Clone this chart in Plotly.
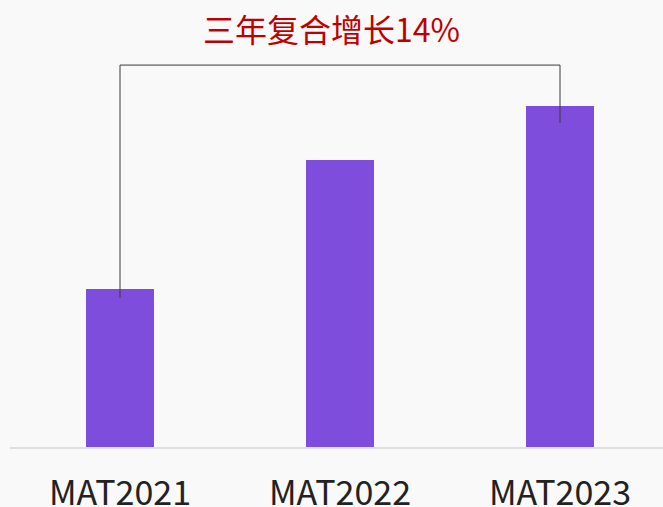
import plotly.graph_objects as go

categories = ["MAT2021", "MAT2022", "MAT2023"]
values = [158, 287, 341]
growth_label = "三年复合增长14%"

bar_color = "#7f4ddb"
fig = go.Figure()
fig.add_trace(go.Bar(x=categories, y=values, marker=dict(color=bar_color, line=dict(width=0)),
                     width=68/220, hoverinfo="skip"))

top = max(values) * 1.12
fig.add_shape(type="path",
              path=f"M 0 {values[0]-9} L 0 {top} L 2 {top} L 2 {values[2]-17}",
              xref="x", yref="y", line=dict(color="#3a3a3a", width=1))

fig.add_annotation(x=1, y=419, xref="x", yref="y", text=growth_label, showarrow=False,
                   xshift=-9, font=dict(size=32, color="#c00000", family="Noto Sans CJK SC"))

fig.update_layout(
    width=663, height=507,
    margin=dict(l=10, r=0, t=0, b=60, autoexpand=False),
    paper_bgcolor="#f9f9f9", plot_bgcolor="#f9f9f9",
    showlegend=False,
    xaxis=dict(range=[-0.5, -0.5 + 653/220], showline=True, linecolor="#dde0dd", linewidth=2,
               showgrid=False, zeroline=False, ticks="", ticklabelstandoff=15, automargin=False,
               tickfont=dict(size=34, color="#222222", family="Noto Sans CJK SC")),
    yaxis=dict(range=[0, 447], visible=False, showgrid=False, zeroline=False, automargin=False),
)
fig.write_html(
    "out.html",
    config={"displayModeBar": False, "staticPlot": True},
    post_script="document.body.style.margin='0';document.body.style.overflow='hidden';"
                "document.body.style.background='#f9f9f9';",
)
